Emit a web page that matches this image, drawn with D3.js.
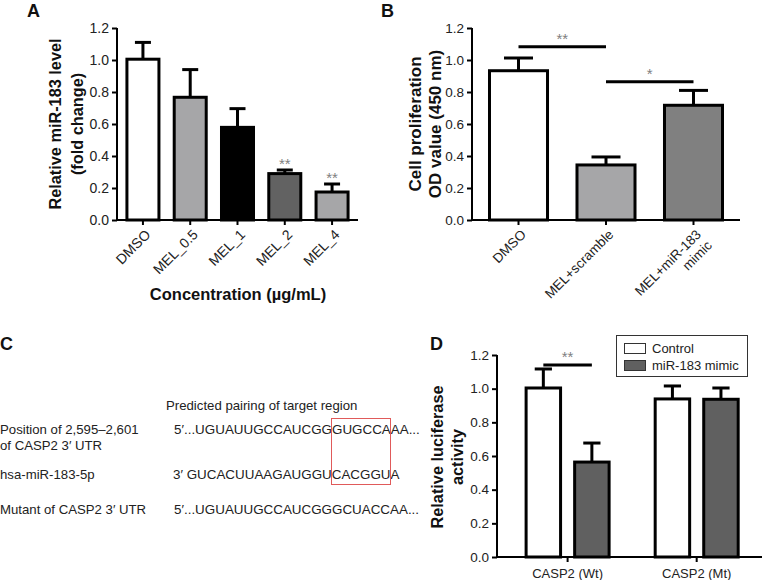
<!DOCTYPE html>
<html>
<head>
<meta charset="utf-8">
<script src="https://cdn.jsdelivr.net/npm/d3@7"></script>
<style>
  html, body { margin: 0; padding: 0; background: #fff; }
  svg { display: block; font-family: "Liberation Sans", Arial, sans-serif; }
</style>
</head>
<body>
<svg id="chart" width="764" height="580"></svg>
<script>
// ---------- Panel A data ----------
const catsA = ["DMSO", "MEL_0.5", "MEL_1", "MEL_2", "MEL_4"];
const meanA = [1.005, 0.767, 0.579, 0.29, 0.175];
const upperA = [1.11, 0.94, 0.696, 0.3125, 0.225];
const starsA = ["", "", "", "**", "**"];
const fillA = ["#ffffff", "#a6a6a8", "#000000", "#626262", "#a6a6a8"];

// ---------- Panel B data ----------
const catsB = ["DMSO", "MEL+scramble", "MEL+miR-183 mimic"];
const labelsB = [["DMSO"], ["MEL+scramble"], ["MEL+miR-183", "mimic"]];
const meanB = [0.933, 0.344, 0.717];
const upperB = [1.0125, 0.394, 0.81];
const sigB = [
  { from: "DMSO", to: "MEL+scramble", level: 1.083, label: "**" },
  { from: "MEL+scramble", to: "MEL+miR-183 mimic", level: 0.864, label: "*" }
];
const fillB = ["#ffffff", "#a6a6a8", "#808080"];

// ---------- Panel D data ----------
const groupsD = ["CASP2 (Wt)", "CASP2 (Mt)"];
const seriesD = ["Control", "miR-183 mimic"];
const controlD = [1.004, 0.939];
const mimicD = [0.564, 0.937];
const controlUpperD = [1.117, 1.016];
const mimicUpperD = [0.677, 1.004];
const sigD = [{ group: "CASP2 (Wt)", level: 1.14, label: "**" }];
const fillD = ["#ffffff", "#606060"];

// ---------- Shared ticks ----------
const yTicks = [0, 0.2, 0.4, 0.6, 0.8, 1.0, 1.2];

// ---------- Panel C text ----------
const pairingTitle = "Predicted pairing of target region";
const rowLabelsC = [["Position of 2,595\u20132,601", "of CASP2 3\u2032 UTR"], ["hsa-miR-183-5p"], ["Mutant of CASP2 3\u2032 UTR"]];
const seqsC = ["5\u2032...UGUAUUGCCAUCGGGUGCCAAA...", "3\u2032 GUCACUUAAGAUGGUCACGGUA", "5\u2032...UGUAUUGCCAUCGGGCUACCAA..."];

const svg = d3.select("#chart");

function yAxis(g, y, fs) {
  const ax = d3.axisLeft(y).tickValues(yTicks).tickFormat(d3.format(".1f")).tickSize(5).tickPadding(3);
  g.call(ax);
  g.select(".domain").attr("stroke", "#000").attr("stroke-width", 2).attr("d", `M0,${y.range()[0] + 1}V${y.range()[1]}`);
  g.selectAll(".tick line").attr("stroke", "#000").attr("stroke-width", 2);
  g.selectAll(".tick text").attr("fill", "#222").style("font-size", fs + "px").style("font-family", "'Liberation Sans', Arial, sans-serif");
}

function xBase(g, x, y0, tickXs) {
  g.append("line").attr("x1", x[0] - 1).attr("x2", x[1]).attr("y1", y0).attr("y2", y0)
    .attr("stroke", "#000").attr("stroke-width", 2);
  tickXs.forEach(t => g.append("line").attr("x1", t).attr("x2", t).attr("y1", y0).attr("y2", y0 + 5)
    .attr("stroke", "#000").attr("stroke-width", 2));
}

function bars(g, data, y) {
  data.forEach(d => {
    const capW = d.w / 2;
    g.append("line").attr("x1", d.x + d.w / 2).attr("x2", d.x + d.w / 2)
      .attr("y1", y(d.mean)).attr("y2", y(d.upper)).attr("stroke", "#000").attr("stroke-width", 3);
    g.append("line").attr("x1", d.x + d.w / 2 - capW / 2).attr("x2", d.x + d.w / 2 + capW / 2)
      .attr("y1", y(d.upper)).attr("y2", y(d.upper)).attr("stroke", "#000").attr("stroke-width", 3);
    g.append("rect").attr("x", d.x).attr("y", y(d.mean)).attr("width", d.w)
      .attr("height", y(0) - y(d.mean)).attr("fill", d.fill).attr("stroke", "#000").attr("stroke-width", 3);
  });
}

function yTitle(lines, cx, cy, fs, dx) {
  const t = svg.append("text").attr("transform", `translate(${cx},${cy}) rotate(-90)`)
    .attr("text-anchor", "middle").style("font-size", fs + "px").style("font-weight", "bold").attr("fill", "#111");
  lines.forEach((l, i) => t.append("tspan").attr("x", 0).attr("y", i * dx).text(l));
}

function panelLetter(txt, x, y) {
  svg.append("text").attr("x", x).attr("y", y).text(txt)
    .style("font-size", "18px").style("font-weight", "bold").attr("fill", "#111");
}

// ================= Panel A =================
{
  const yA = d3.scaleLinear().domain([0, 1.2]).range([220, 28]);
  const xA = d3.scaleBand().domain(catsA).range([117, 358]).paddingInner(0.323).paddingOuter(0.21);
  const g = svg.append("g");
  bars(g, catsA.map((c, i) => ({ x: xA(c), w: xA.bandwidth(), mean: meanA[i], upper: upperA[i], fill: fillA[i] })), yA);
  xBase(g, xA.range(), yA(0), catsA.map(c => xA(c) + xA.bandwidth() / 2));
  const ga = svg.append("g").attr("transform", "translate(117,0)");
  yAxis(ga, yA, 14);
  catsA.forEach((c, i) => {
    const cx = xA(c) + xA.bandwidth() / 2;
    svg.append("text").attr("transform", `translate(${cx + 5},${yA(0) + 12}) rotate(-45)`)
      .attr("text-anchor", "end").attr("dy", "0.35em").style("font-size", "14px").attr("fill", "#222").text(c);
    if (starsA[i]) {
      svg.append("text").attr("x", cx).attr("y", yA(upperA[i]) - 1).attr("text-anchor", "middle")
        .style("font-size", "15px").attr("fill", "#808080").text(starsA[i]);
    }
  });
  yTitle(["Relative miR-183 level", "(fold change)"], 61, 124, 16.3, 22);
  svg.append("text").attr("x", 238).attr("y", 300).attr("text-anchor", "middle")
    .style("font-size", "16.5px").style("font-weight", "bold").attr("fill", "#111").text("Concentration (\u00b5g/mL)");
  panelLetter("A", 27, 17);
}

// ================= Panel B =================
{
  const yB = d3.scaleLinear().domain([0, 1.2]).range([220, 28]);
  const xB = d3.scaleBand().domain(catsB).range([472, 740]).paddingInner(0.337).paddingOuter(0.2);
  const g = svg.append("g");
  bars(g, catsB.map((c, i) => ({ x: xB(c), w: xB.bandwidth(), mean: meanB[i], upper: upperB[i], fill: fillB[i] })), yB);
  xBase(g, xB.range(), yB(0), catsB.map(c => xB(c) + xB.bandwidth() / 2));
  const ga = svg.append("g").attr("transform", "translate(472,0)");
  yAxis(ga, yB, 13.5);
  catsB.forEach((c, i) => {
    const cx = xB(c) + xB.bandwidth() / 2;
    const t = svg.append("text").attr("transform", `translate(${cx + 5},${yB(0) + 12}) rotate(-45)`)
      .attr("text-anchor", "end").style("font-size", "13.5px").attr("fill", "#222");
    labelsB[i].forEach((l, j) => t.append("tspan").attr("x", 0).attr("y", 0).attr("dy", (0.35 + j * 1.15) + "em").text(l));
  });
  sigB.forEach(s => {
    const x1 = xB(s.from) + xB.bandwidth() / 2, x2 = xB(s.to) + xB.bandwidth() / 2;
    svg.append("line").attr("x1", x1).attr("x2", x2).attr("y1", yB(s.level)).attr("y2", yB(s.level))
      .attr("stroke", "#000").attr("stroke-width", 3);
    svg.append("text").attr("x", (x1 + x2) / 2).attr("y", yB(s.level) - 3).attr("text-anchor", "middle")
      .style("font-size", "15px").attr("fill", "#808080").text(s.label);
  });
  yTitle(["Cell proliferation", "OD value (450 nm)"], 421, 124, 17, 20);
  panelLetter("B", 381, 17);
}

// ================= Panel C =================
{
  panelLetter("C", 0, 350);
  svg.append("text").attr("x", 166).attr("y", 410).style("font-size", "13.2px").attr("fill", "#222").text(pairingTitle);
  const rowY = [434, 479, 514];
  rowLabelsC.forEach((lines, i) => {
    lines.forEach((l, j) => svg.append("text").attr("x", 0).attr("y", rowY[i] + j * 16)
      .style("font-size", "13.2px").attr("fill", "#222").text(l));
  });
  const seqX = [174, 173, 174];
  seqsC.forEach((s, i) => svg.append("text").attr("x", seqX[i]).attr("y", rowY[i])
    .style("font-size", "13.4px").attr("fill", "#222").text(s));
  svg.append("rect").attr("x", 331.5).attr("y", 418.5).attr("width", 59).attr("height", 66)
    .attr("fill", "none").attr("stroke", "#e05a5a").attr("stroke-width", 1);
}

// ================= Panel D =================
{
  const yD = d3.scaleLinear().domain([0, 1.2]).range([557, 355]);
  const x0 = d3.scaleBand().domain(groupsD).range([497, 762]).paddingInner(0.357).paddingOuter(0.205).align(0.55);
  const x1 = d3.scaleBand().domain(seriesD).range([0, x0.bandwidth()]).paddingInner(0.29).paddingOuter(0);
  const g = svg.append("g");
  const data = [];
  groupsD.forEach((grp, i) => {
    data.push({ x: x0(grp) + x1("Control"), w: x1.bandwidth(), mean: controlD[i], upper: controlUpperD[i], fill: fillD[0] });
    data.push({ x: x0(grp) + x1("miR-183 mimic"), w: x1.bandwidth(), mean: mimicD[i], upper: mimicUpperD[i], fill: fillD[1] });
  });
  bars(g, data, yD);
  xBase(g, x0.range(), yD(0), groupsD.map(grp => x0(grp) + x0.bandwidth() / 2));
  const ga = svg.append("g").attr("transform", "translate(497,0)");
  yAxis(ga, yD, 13.5);
  groupsD.forEach(grp => {
    svg.append("text").attr("x", x0(grp) + x0.bandwidth() / 2).attr("y", 578).attr("text-anchor", "middle")
      .style("font-size", "13px").attr("fill", "#222").text(grp);
  });
  sigD.forEach(s => {
    const xa = x0(s.group) + x1("Control") + x1.bandwidth() / 2;
    const xb = x0(s.group) + x1("miR-183 mimic") + x1.bandwidth() / 2;
    svg.append("line").attr("x1", xa).attr("x2", xb).attr("y1", yD(s.level)).attr("y2", yD(s.level))
      .attr("stroke", "#000").attr("stroke-width", 3);
    svg.append("text").attr("x", (xa + xb) / 2).attr("y", yD(s.level) - 3).attr("text-anchor", "middle")
      .style("font-size", "15px").attr("fill", "#808080").text(s.label);
  });
  const lg = svg.append("g");
  lg.append("rect").attr("x", 616.5).attr("y", 335.5).attr("width", 131).attr("height", 41)
    .attr("fill", "#fff").attr("stroke", "#333").attr("stroke-width", 1);
  seriesD.forEach((s, i) => {
    lg.append("rect").attr("x", 624.5).attr("y", 343.5 + i * 17).attr("width", 21).attr("height", 10)
      .attr("fill", fillD[i]).attr("stroke", "#333").attr("stroke-width", 1);
    lg.append("text").attr("x", 652).attr("y", 353 + i * 17).style("font-size", "13px").attr("fill", "#222").text(s);
  });
  yTitle(["Relative luciferase", "activity"], 443, 457, 16.3, 20);
  panelLetter("D", 430, 350);
}
</script>
</body>
</html>
